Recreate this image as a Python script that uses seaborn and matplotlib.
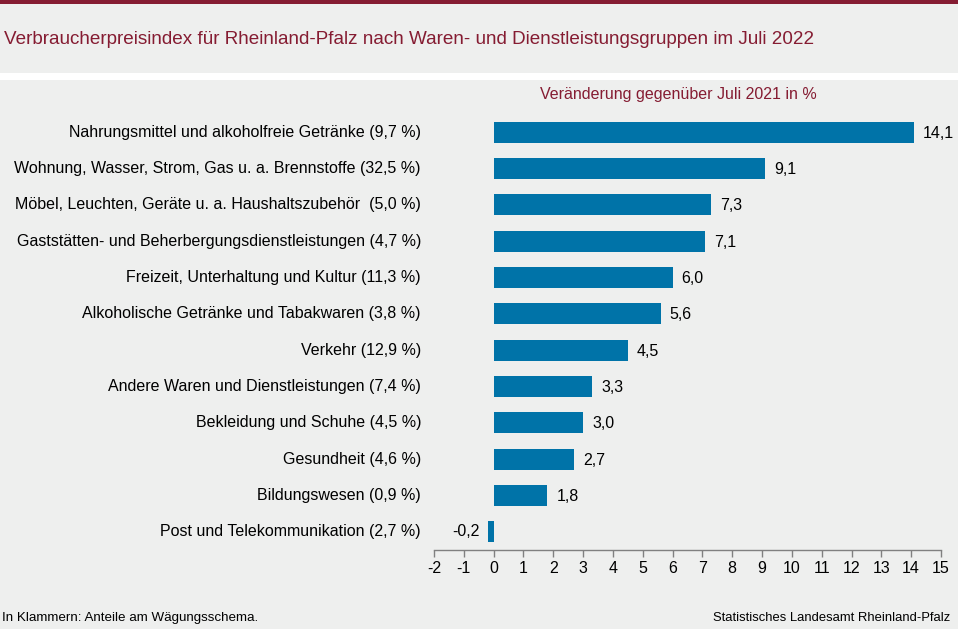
import matplotlib
matplotlib.use('Agg')
import matplotlib.pyplot as plt
import pandas as pd
import seaborn as sns
from matplotlib.patches import Rectangle

categories = ['Nahrungsmittel und alkoholfreie Getränke (9,7 %)',
              'Wohnung, Wasser, Strom, Gas u. a. Brennstoffe (32,5 %)',
              'Möbel, Leuchten, Geräte u. a. Haushaltszubehör  (5,0 %)',
              'Gaststätten- und Beherbergungsdienstleistungen (4,7 %)',
              'Freizeit, Unterhaltung und Kultur (11,3 %)',
              'Alkoholische Getränke und Tabakwaren (3,8 %)',
              'Verkehr (12,9 %)',
              'Andere Waren und Dienstleistungen (7,4 %)',
              'Bekleidung und Schuhe (4,5 %)',
              'Gesundheit (4,6 %)',
              'Bildungswesen (0,9 %)',
              'Post und Telekommunikation (2,7 %)']
values = [14.1, 9.1, 7.3, 7.1, 6.0, 5.6, 4.5, 3.3, 3.0, 2.7, 1.8, -0.2]
x_ticks = list(range(-2, 16))

BG = '#eeefee'
RED = '#851c32'
BLUE = '#0073a8'
W, H = 958, 629

sns.set_theme(style='white')
plt.rcParams['font.family'] = ['Liberation Sans', 'DejaVu Sans']

df = pd.DataFrame({'category': categories, 'value': values})

fig = plt.figure(figsize=(W / 100, H / 100), dpi=100, facecolor=BG)
ax = fig.add_axes([434 / W, 1 - 550 / H, (941 - 434) / W, (550 - 114) / H], facecolor='none')

sns.barplot(data=df, x='value', y='category', color=BLUE, saturation=1, width=0.58,
            linewidth=0, ax=ax)

ax.set_xlim(-2, 15)
ax.set_ylim(len(categories) - 0.5, -0.5)
ax.set_xlabel('')
ax.set_ylabel('')
ax.set_xticks(x_ticks)
ax.set_xticklabels([str(t) for t in x_ticks], fontsize=11.5, color='black')
ax.tick_params(axis='x', bottom=True, length=5, width=1, color='#808080', pad=3)
ax.tick_params(axis='y', left=False, labelleft=False)

for side in ['top', 'left', 'right']:
    ax.spines[side].set_visible(False)
ax.spines['bottom'].set_color('#808080')
ax.spines['bottom'].set_linewidth(1)

# category labels sit left of the axis, right aligned
for i, (cat, val) in enumerate(zip(categories, values)):
    ax.annotate(cat, xy=(0, i), xycoords=('axes fraction', 'data'), xytext=(-13, 0),
                textcoords='offset pixels', ha='right', va='center', fontsize=11.5, color='black')
    label = f'{val:.1f}'.replace('.', ',')
    if val < 0:
        ax.annotate(label, xy=(val, i), xytext=(-8, 0), textcoords='offset pixels',
                    ha='right', va='center', fontsize=11.5, color='black')
    else:
        ax.annotate(label, xy=(val, i), xytext=(9, -1), textcoords='offset pixels',
                    ha='left', va='center', fontsize=11.5, color='black')

# header bands
fig.add_artist(Rectangle((0, 1 - 4 / H), 1, 4 / H, transform=fig.transFigure, color=RED, lw=0))
fig.add_artist(Rectangle((0, 1 - 80 / H), 1, 7 / H, transform=fig.transFigure, color='white', lw=0))

fig.text(4 / W, 1 - 39.5 / H, 'Verbraucherpreisindex für Rheinland-Pfalz nach Waren- und Dienstleistungsgruppen im Juli 2022',
         ha='left', va='center', fontsize=13.55, color=RED)
fig.text(678 / W, 1 - 95 / H, 'Veränderung gegenüber Juli 2021 in %',
         ha='center', va='center', fontsize=11.5, color=RED)
fig.text(2 / W, 1 - 618 / H, 'In Klammern: Anteile am Wägungsschema.',
         ha='left', va='center', fontsize=9.6, color='black')
fig.text(950 / W, 1 - 618 / H, 'Statistisches Landesamt Rheinland-Pfalz',
         ha='right', va='center', fontsize=9.4, color='black')

fig.savefig('out.png', dpi=100, facecolor=BG)
